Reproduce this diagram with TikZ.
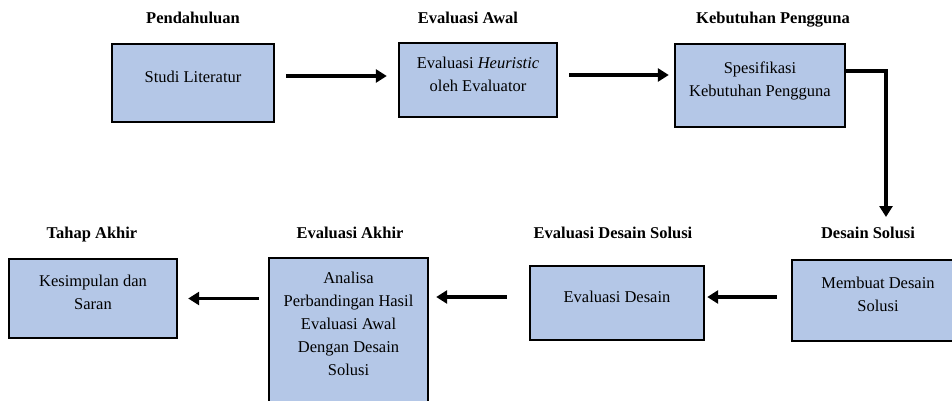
\documentclass[tikz,border=0pt]{standalone}
\usepackage{fontspec}
\setmainfont{Liberation Serif}
\usetikzlibrary{arrows.meta}
\definecolor{kotakbiru}{RGB}{180,199,231}

\begin{document}
\begin{tikzpicture}[x=1pt,y=-1pt,
        font=\fontsize{16.5}{23}\selectfont,
        kotak/.style={draw,rectangle,line width=2.4pt,fill=kotakbiru,
        text centered,align=center,inner sep=0pt,text depth=12pt},
        tahap/.style={font=\fontsize{16.5}{23}\selectfont\bfseries,
        text height=12pt,text depth=4pt},
        panah/.style={line width=3.2pt,->,>={Triangle[length=11pt,width=13pt]}}]
        \clip (0,0) rectangle (952,401);
        % baris atas
        \node[kotak,minimum width=162pt,minimum height=78pt] (studi) at (193,83)
        {Studi Literatur};
        \node[kotak,minimum width=158pt,minimum height=74pt] (heuristik) at (478,80)
        {Evaluasi \textit{Heuristic}\\oleh Evaluator};
        \node[kotak,minimum width=170pt,minimum height=83pt] (spesifikasi) at (760,85.5)
        {Spesifikasi\\Kebutuhan Pengguna};
        % baris bawah
        \node[kotak,minimum width=172pt,minimum height=81pt] (membuat) at (878,300.5)
        {Membuat Desain\\Solusi};
        \node[kotak,minimum width=174pt,minimum height=74pt] (evaldesain) at (617,303)
        {Evaluasi Desain};
        \node[kotak,minimum width=159pt,minimum height=144pt] (analisa) at (348.5,330)
        {Analisa\\Perbandingan Hasil\\Evaluasi Awal\\Dengan Desain\\Solusi};
        \node[kotak,minimum width=168pt,minimum height=79pt] (kesimpulan) at (93,298.5)
        {Kesimpulan dan\\Saran};
        % judul tahap
        \node[tahap] (pendahuluan) at (193,20) {Pendahuluan};
        \node[tahap] (awal) at (468,20) {Evaluasi Awal};
        \node[tahap] (kebutuhan) at (773,20) {Kebutuhan Pengguna};
        \node[tahap] (akhir) at (92,234) {Tahap Akhir};
        \node[tahap] (evalakhir) at (350,234) {Evaluasi Akhir};
        \node[tahap] (evalsolusi) at (613,234) {Evaluasi Desain Solusi};
        \node[tahap] (desain) at (868,234) {Desain Solusi};
        \coordinate (turun) at (886,217);
        % panah
        \draw [panah,shorten <=11pt,shorten >=11pt] ([yshift=7pt]studi.east) -- ([yshift=7pt]studi.east -| heuristik.west);
        \draw [panah,shorten <=11pt,shorten >=5pt] ([yshift=5pt]heuristik.east) -- ([yshift=5pt]heuristik.east -| spesifikasi.west);
        \draw [panah] ([yshift=14.5pt]spesifikasi.east) -| (turun);
        \draw [panah,shorten <=14pt,shorten >=2pt] ([yshift=3.5pt]membuat.west) -- ([yshift=3.5pt]membuat.west -| evaldesain.east);
        \draw [panah,shorten <=22pt,shorten >=7pt] ([yshift=6pt]evaldesain.west) -- ([yshift=6pt]evaldesain.west -| analisa.east);
        \draw [panah,shorten <=9pt,shorten >=10pt] (analisa.west |- kesimpulan.east) -- (kesimpulan.east);
\end{tikzpicture}
\end{document}
